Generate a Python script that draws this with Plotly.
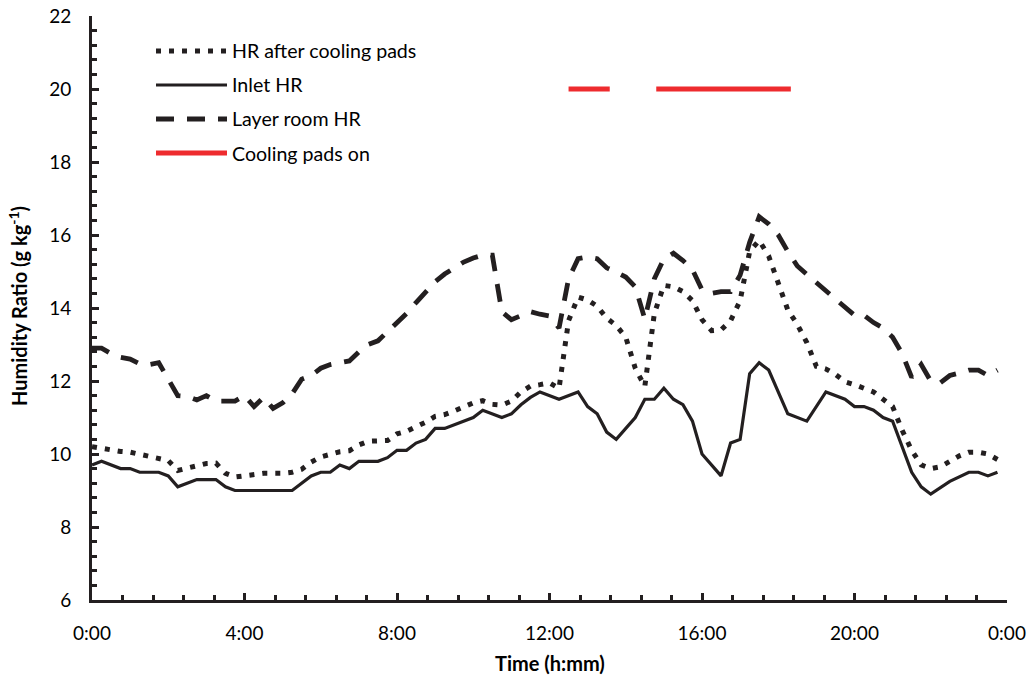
import plotly.graph_objects as go

# ---------------- data (hours of day, g/kg) ----------------
inlet_t = [0, 0.25, 0.75, 1.0, 1.25, 1.75, 2.0, 2.25, 2.75, 3.25, 3.5, 3.75, 5.25, 5.5, 5.75,
           6.0, 6.25, 6.5, 6.75, 7.0, 7.5, 7.75, 8.0, 8.25, 8.5, 8.75, 9.0, 9.25, 10.0, 10.25,
           10.75, 11.0, 11.25, 11.5, 11.75, 12.25, 12.75, 13.0, 13.25, 13.5, 13.75, 14.25, 14.5,
           14.75, 15.0, 15.25, 15.5, 15.75, 16.0, 16.5, 16.75, 17.0, 17.25, 17.5, 17.75, 18.25,
           18.75, 19.25, 19.75, 20.0, 20.25, 20.5, 20.75, 21.0, 21.25, 21.5, 21.75, 22.0, 22.5,
           23.0, 23.25, 23.5, 23.75]
inlet_hr = [9.7, 9.8, 9.6, 9.6, 9.5, 9.5, 9.4, 9.1, 9.3, 9.3, 9.1, 9.0, 9.0, 9.2, 9.4,
            9.5, 9.5, 9.7, 9.6, 9.8, 9.8, 9.9, 10.1, 10.1, 10.3, 10.4, 10.7, 10.7, 11.0, 11.2,
            11.0, 11.1, 11.35, 11.55, 11.7, 11.5, 11.7, 11.3, 11.1, 10.6, 10.4, 11.0, 11.5,
            11.5, 11.8, 11.5, 11.35, 10.9, 10.0, 9.4, 10.3, 10.4, 12.2, 12.5, 12.3, 11.1,
            10.9, 11.7, 11.5, 11.3, 11.3, 11.2, 11.0, 10.9, 10.2, 9.5, 9.1, 8.9, 9.25,
            9.5, 9.5, 9.4, 9.5]

after_t = [0, 0.25, 0.5, 0.75, 1.0, 1.25, 1.5, 1.75, 2.0, 2.25, 2.5, 2.75, 3.0, 3.25, 3.5,
           3.75, 4.0, 4.25, 4.5, 5.0, 5.25, 5.5, 5.75, 6.0, 6.25, 6.5, 6.75, 7.0, 7.25, 7.5,
           7.75, 8.0, 8.25, 8.5, 8.75, 9.0, 9.25, 9.5, 9.75, 10.0, 10.25, 10.5, 10.75, 11.0,
           11.25, 11.5, 11.75, 12.0, 12.25, 12.5, 12.75, 13.0, 13.25, 13.5, 13.75, 14.0, 14.25,
           14.5, 14.75, 15.0, 15.25, 15.5, 15.75, 16.0, 16.25, 16.5, 16.75, 17.0, 17.25, 17.5,
           17.75, 18.0, 18.25, 18.5, 18.75, 19.0, 19.25, 19.5, 19.75, 20.0, 20.25, 20.5, 20.75,
           21.0, 21.25, 21.5, 21.75, 22.0, 22.25, 22.5, 22.75, 23.0, 23.25, 23.5, 23.75]
after_pads_hr = [10.2, 10.15, 10.1, 10.07, 10.05, 10.0, 9.95, 9.88, 9.82, 9.55, 9.62, 9.7, 9.74,
                 9.75, 9.47, 9.37, 9.4, 9.45, 9.47, 9.47, 9.5, 9.58, 9.78, 9.92, 10.0, 10.06,
                 10.09, 10.25, 10.35, 10.37, 10.37, 10.55, 10.62, 10.75, 10.87, 11.03, 11.08,
                 11.18, 11.3, 11.4, 11.46, 11.36, 11.34, 11.45, 11.7, 11.86, 11.9, 11.95, 11.8,
                 13.65, 14.3, 14.22, 14.05, 13.72, 13.52, 13.2, 12.35, 11.85, 13.85, 14.62, 14.58,
                 14.45, 14.2, 13.68, 13.38, 13.4, 13.65, 14.2, 15.55, 15.85, 15.42, 14.7, 13.95,
                 13.55, 13.05, 12.4, 12.33, 12.18, 11.98, 11.9, 11.8, 11.7, 11.5, 11.3, 10.65,
                 10.1, 9.7, 9.6, 9.65, 9.8, 9.95, 10.05, 10.05, 10.0, 9.85]

room_t = [0, 0.25, 0.5, 0.75, 1.0, 1.25, 1.5, 1.75, 2.0, 2.25, 2.5, 2.75, 3.0, 3.25, 3.5, 3.75,
          4.0, 4.25, 4.5, 4.75, 5.0, 5.25, 5.5, 5.75, 6.0, 6.25, 6.5, 6.75, 7.0, 7.25, 7.5, 7.75,
          8.0, 8.25, 8.5, 8.75, 9.0, 9.25, 9.5, 9.75, 10.0, 10.25, 10.5, 10.75, 11.0, 11.25,
          11.5, 11.75, 12.0, 12.25, 12.5, 12.75, 13.0, 13.25, 13.5, 13.75, 14.0, 14.25, 14.5,
          14.75, 15.0, 15.25, 15.5, 15.75, 16.0, 16.25, 16.5, 16.75, 17.0, 17.25, 17.5, 17.75,
          18.0, 18.25, 18.5, 18.75, 19.0, 19.25, 19.5, 19.75, 20.0, 20.25, 20.5, 20.75, 21.0,
          21.25, 21.5, 21.75, 22.0, 22.25, 22.5, 22.75, 23.0, 23.25, 23.5, 23.75]
layer_room_hr = [12.9, 12.9, 12.75, 12.65, 12.6, 12.47, 12.45, 12.5, 12.05, 11.6, 11.58, 11.48,
                 11.6, 11.45, 11.45, 11.45, 11.6, 11.3, 11.55, 11.25, 11.4, 11.65, 12.05, 12.15,
                 12.35, 12.45, 12.5, 12.55, 12.8, 13.0, 13.1, 13.35, 13.6, 13.85, 14.15, 14.45,
                 14.72, 14.93, 15.1, 15.26, 15.37, 15.45, 15.45, 13.9, 13.68, 13.78, 13.9, 13.83,
                 13.78, 13.45, 14.8, 15.35, 15.4, 15.35, 15.1, 14.98, 14.85, 14.58, 13.7, 14.8,
                 15.35, 15.5, 15.3, 15.05, 14.5, 14.4, 14.45, 14.45, 14.9, 15.8, 16.5, 16.3,
                 16.0, 15.55, 15.15, 14.92, 14.7, 14.45, 14.22, 14.0, 13.8, 13.8, 13.6, 13.45,
                 13.2, 12.75, 12.1, 12.45, 12.0, 11.95, 12.15, 12.22, 12.3, 12.3, 12.15, 12.3]

pads_on_start = [12.5, 14.8]
pads_on_end = [13.58, 18.33]
pads_on_level = 20

x_tickvals = [0, 4, 8, 12, 16, 20, 24]
x_ticktext = ["0:00", "4:00", "8:00", "12:00", "16:00", "20:00", "0:00"]
y_tickvals = [6, 8, 10, 12, 14, 16, 18, 20, 22]

legend_names = ["HR after cooling pads", "Inlet HR", "Layer room HR", "Cooling pads on"]

# ---------------- styling ----------------
BLACK = "#231f20"
RED = "#ee2b2e"
FONT = "Lato"
DOT = "5px,8px"
DASH = "18px,13px"

W, H = 1031, 677
L, R, T, B = 92, 24, 16, 77
pw, ph = W - L - R, H - T - B

fig = go.Figure()

fig.add_trace(go.Scatter(x=after_t, y=after_pads_hr, mode="lines", name=legend_names[0],
                         line=dict(color=BLACK, width=5, dash=DOT), showlegend=False))
fig.add_trace(go.Scatter(x=inlet_t, y=inlet_hr, mode="lines", name=legend_names[1],
                         line=dict(color=BLACK, width=3.2), showlegend=False))
fig.add_trace(go.Scatter(x=room_t, y=layer_room_hr, mode="lines", name=legend_names[2],
                         line=dict(color=BLACK, width=4.8, dash=DASH), showlegend=False))

pads_x, pads_y = [], []
for s, e in zip(pads_on_start, pads_on_end):
    pads_x += [s, e, None]
    pads_y += [pads_on_level, pads_on_level, None]
fig.add_trace(go.Scatter(x=pads_x, y=pads_y, mode="lines", name=legend_names[3],
                         line=dict(color=RED, width=5), showlegend=False))

# ---------------- manual legend ----------------
def px_to_paper(px, py):
    return (px - L) / pw, (H - B - py) / ph

legend_styles = [dict(color=BLACK, width=5, dash=DOT),
                 dict(color=BLACK, width=3.2),
                 dict(color=BLACK, width=4.8, dash=DASH),
                 dict(color=RED, width=5)]
rows_py = [51, 85, 119, 153]
shapes, annotations = [], []
for name, style, py in zip(legend_names, legend_styles, rows_py):
    x0, y0 = px_to_paper(156, py)
    x1, _ = px_to_paper(227, py)
    shapes.append(dict(type="line", xref="paper", yref="paper", x0=x0, x1=x1, y0=y0, y1=y0,
                       line=style))
    tx, ty = px_to_paper(230, py)
    annotations.append(dict(text=name, xref="paper", yref="paper", x=tx, y=ty,
                            xanchor="left", yanchor="middle", showarrow=False,
                            font=dict(family=FONT, size=19.6, color="#000000")))

# axis titles
ax, ay = px_to_paper(550, 663)
annotations.append(dict(text="<b>Time (h:mm)</b>", xref="paper", yref="paper", x=ax, y=ay,
                        xanchor="center", yanchor="middle", showarrow=False,
                        font=dict(family=FONT, size=20, color="#000000")))
bx, by = px_to_paper(18, 306)
annotations.append(dict(text="<b>Humidity Ratio (g kg<sup>-1</sup>)</b>", xref="paper",
                        yref="paper", x=bx, y=by, xanchor="center", yanchor="middle",
                        textangle=-90, showarrow=False,
                        font=dict(family=FONT, size=20, color="#000000")))

fig.update_layout(
    width=W, height=H,
    margin=dict(l=L, r=R, t=T, b=B, pad=0, autoexpand=False),
    plot_bgcolor="white", paper_bgcolor="white",
    showlegend=False,
    shapes=shapes, annotations=annotations,
    xaxis=dict(range=[0, 24], tickmode="array", tickvals=x_tickvals, ticktext=x_ticktext,
               automargin=False,
               showline=True, linecolor=BLACK, linewidth=3, mirror=False,
               showgrid=False, zeroline=False,
               ticks="inside", ticklen=7, tickwidth=3, tickcolor=BLACK,
               ticklabelstandoff=14,
               tickfont=dict(family=FONT, size=19, color="#000000"),
               minor=dict(tickmode="linear", tick0=0, dtick=0.8, ticks="inside",
                          ticklen=5, tickwidth=3, tickcolor=BLACK, showgrid=False)),
    yaxis=dict(range=[6, 22], tickmode="array", tickvals=y_tickvals,
               automargin=False,
               showline=True, linecolor=BLACK, linewidth=3, mirror=False,
               showgrid=False, zeroline=False,
               ticks="inside", ticklen=7, tickwidth=3, tickcolor=BLACK,
               ticklabelstandoff=14,
               tickfont=dict(family=FONT, size=19, color="#000000"),
               minor=dict(tickmode="linear", tick0=6, dtick=0.4, ticks="inside",
                          ticklen=5, tickwidth=3, tickcolor=BLACK, showgrid=False)),
)

fig.write_html("out.html")
